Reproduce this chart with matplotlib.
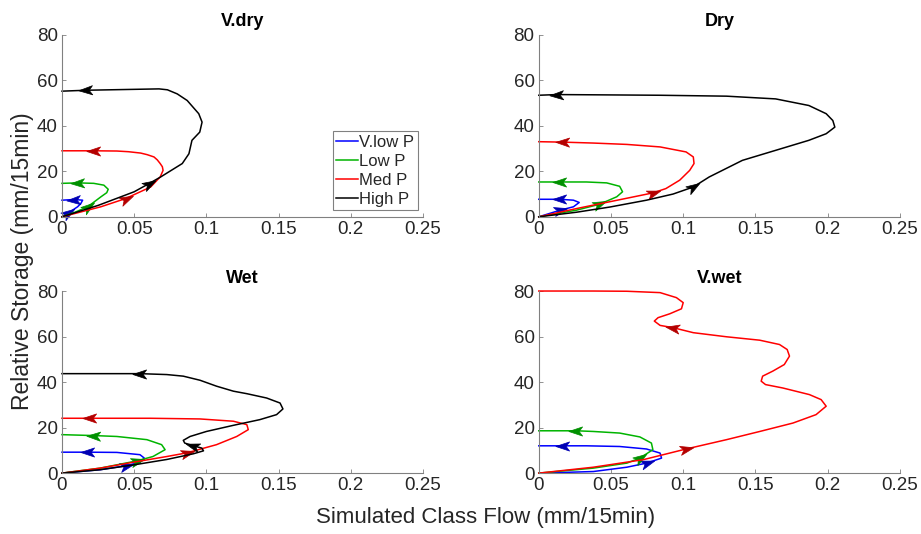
import numpy as np
import matplotlib.pyplot as plt
from matplotlib.markers import MarkerStyle
from matplotlib.path import Path
from matplotlib.transforms import Affine2D

plt.rcParams['font.family'] = ['Liberation Sans', 'DejaVu Sans']

titles = ['V.dry', 'Dry', 'Wet', 'V.wet']
series_names = ['V.low P', 'Low P', 'Med P', 'High P']
line_colors = ['#0000ff', '#00b400', '#ff0000', '#000000']
arrow_colors = ['#0000b4', '#009000', '#b40000', '#000000']

# V.dry  (flow q, storage s), arrow indices along each loop
vdry_vlow_q = [0, 0.004, 0.0108, 0.013, 0.0143, 0.0085, 0]
vdry_vlow_s = [0, 1.5, 4.4, 5.8, 7.3, 7.6, 7.3]
vdry_vlow_arr = [1, 5]
vdry_low_q = [0, 0.009, 0.018, 0.027, 0.031, 0.032, 0.029, 0.022, 0.0108, 0]
vdry_low_s = [0, 2.0, 4.5, 8.8, 10.6, 12.1, 13.9, 14.7, 14.9, 14.7]
vdry_low_arr = [2, 8]
vdry_med_q = [0, 0.0269, 0.044, 0.0614, 0.068, 0.070, 0.0695, 0.068, 0.066, 0.0637, 0.059,
              0.0545, 0.046, 0.038, 0.022, 0]
vdry_med_s = [0, 4.4, 8.0, 13.1, 17.5, 20.4, 22.0, 23.4, 25.0, 26.3, 27.3,
              28.0, 28.6, 28.9, 29.0, 29.0]
vdry_med_arr = [2, 14]
vdry_high_q = [0, 0.025, 0.05, 0.06, 0.0683, 0.0833, 0.0879, 0.090, 0.0954, 0.097, 0.0947,
               0.0867, 0.0798, 0.073, 0.0672, 0.0166, 0]
vdry_high_s = [0, 5.0, 11.0, 14.5, 17.5, 23.4, 27.7, 33.6, 37.2, 41.6, 45.3,
               51.1, 54.0, 55.8, 56.2, 55.6, 55.2]
vdry_high_arr = [3, 15]

# Dry
dry_vlow_q = [0, 0.0147, 0.024, 0.028, 0.024, 0.0147, 0.007, 0]
dry_vlow_s = [0, 2.9, 4.4, 6.3, 7.3, 7.7, 7.7, 7.7]
dry_vlow_arr = [1, 5]
dry_low_q = [0, 0.026, 0.042, 0.054, 0.058, 0.056, 0.047, 0.033, 0.0147, 0]
dry_low_s = [0, 2.9, 5.5, 8.8, 11.0, 13.4, 14.9, 15.3, 15.3, 15.3]
dry_low_arr = [2, 8]
dry_med_q = [0, 0.026, 0.049, 0.079, 0.088, 0.0976, 0.1045, 0.1075, 0.107, 0.102, 0.084,
             0.061, 0.0378, 0.017, 0]
dry_med_s = [0, 3.6, 6.6, 10.5, 12.4, 16.1, 20.4, 23.4, 26.3, 28.5, 30.7,
             31.8, 32.4, 32.8, 33.0]
dry_med_arr = [3, 13]
dry_high_q = [0, 0.026, 0.0493, 0.0746, 0.093, 0.107, 0.118, 0.141, 0.164, 0.187, 0.199,
              0.205, 0.2036, 0.199, 0.187, 0.164, 0.13, 0.0838, 0.0378, 0.0124, 0]
dry_high_s = [0, 2.0, 4.3, 7.3, 10.0, 13.1, 17.5, 24.8, 29.2, 33.6, 36.5,
              39.4, 42.3, 45.3, 48.9, 51.8, 53.0, 53.4, 53.6, 53.7, 53.4]
dry_high_arr = [5, 19]

# Wet
wet_vlow_q = [0, 0.0265, 0.044, 0.054, 0.057, 0.054, 0.038, 0.018, 0]
wet_vlow_s = [0, 1.5, 3.2, 4.8, 6.6, 8.1, 9.1, 9.2, 9.2]
wet_vlow_arr = [2, 7]
wet_low_q = [0, 0.0265, 0.052, 0.063, 0.0714, 0.069, 0.0588, 0.038, 0.022, 0]
wet_low_s = [0, 2.2, 5.4, 7.3, 10.3, 12.5, 14.7, 16.1, 16.5, 16.9]
wet_low_arr = [2, 8]
wet_med_q = [0, 0.0265, 0.0495, 0.0726, 0.0864, 0.107, 0.121, 0.129, 0.128, 0.1187, 0.0956,
             0.061, 0.0196, 0]
wet_med_s = [0, 2.2, 4.8, 7.3, 8.9, 12.5, 16.1, 19.1, 21.3, 22.8, 23.8,
             24.1, 24.1, 24.1]
wet_med_arr = [4, 12]
wet_high_q = [0, 0.0265, 0.0495, 0.0726, 0.091, 0.098, 0.0968, 0.091, 0.085, 0.084, 0.0887,
              0.1, 0.1187, 0.137, 0.1486, 0.153, 0.151, 0.1417, 0.128, 0.1187, 0.107,
              0.0956, 0.084, 0.0726, 0.054, 0.0265, 0]
wet_high_s = [0, 1.5, 3.6, 6.0, 8.5, 9.8, 11.0, 12.0, 13.2, 14.4, 16.1,
              18.3, 21.0, 23.5, 25.7, 28.2, 30.8, 33.0, 34.9, 36.0, 38.2,
              40.8, 42.6, 43.3, 43.7, 43.7, 43.7]
wet_high_arr = [7, 24]

# V.wet (no High P loop)
vwet_vlow_q = [0, 0.0378, 0.061, 0.0746, 0.085, 0.084, 0.0746, 0.056, 0.033, 0.017, 0]
vwet_vlow_s = [0, 0.7, 2.6, 4.4, 6.6, 8.8, 10.6, 11.7, 12.0, 12.0, 12.0]
vwet_vlow_arr = [3, 9]
vwet_low_q = [0, 0.0378, 0.061, 0.07, 0.079, 0.078, 0.07, 0.056, 0.0378, 0.026, 0]
vwet_low_s = [0, 2.2, 4.4, 6.6, 10.3, 13.2, 15.9, 17.6, 18.3, 18.6, 18.6]
vwet_low_arr = [3, 9]
vwet_med_q = [0, 0.0378, 0.0723, 0.102, 0.13, 0.153, 0.176, 0.192, 0.199, 0.1955, 0.1874,
              0.169, 0.157, 0.154, 0.155, 0.162, 0.17, 0.1736, 0.172, 0.1667, 0.153,
              0.13, 0.107, 0.093, 0.084, 0.08, 0.0826, 0.0907, 0.0988, 0.1, 0.0953,
              0.084, 0.061, 0.0378, 0]
vwet_med_s = [0, 2.6, 5.9, 10.6, 14.7, 18.3, 22.0, 25.7, 29.4, 32.3, 34.5,
              37.4, 38.9, 40.4, 42.6, 44.8, 47.7, 51.4, 54.3, 56.5, 58.4,
              59.9, 61.7, 63.9, 64.9, 66.8, 68.3, 70.0, 72.2, 74.9, 77.1,
              79.3, 79.9, 80.0, 80.0]
vwet_med_arr = [3, 23]

panels = [
    [(0, vdry_vlow_q, vdry_vlow_s, vdry_vlow_arr), (1, vdry_low_q, vdry_low_s, vdry_low_arr),
     (2, vdry_med_q, vdry_med_s, vdry_med_arr), (3, vdry_high_q, vdry_high_s, vdry_high_arr)],
    [(0, dry_vlow_q, dry_vlow_s, dry_vlow_arr), (1, dry_low_q, dry_low_s, dry_low_arr),
     (2, dry_med_q, dry_med_s, dry_med_arr), (3, dry_high_q, dry_high_s, dry_high_arr)],
    [(0, wet_vlow_q, wet_vlow_s, wet_vlow_arr), (1, wet_low_q, wet_low_s, wet_low_arr),
     (2, wet_med_q, wet_med_s, wet_med_arr), (3, wet_high_q, wet_high_s, wet_high_arr)],
    [(0, vwet_vlow_q, vwet_vlow_s, vwet_vlow_arr), (1, vwet_low_q, vwet_low_s, vwet_low_arr),
     (2, vwet_med_q, vwet_med_s, vwet_med_arr)],
]

# barbed arrow head, pointing along +x
head = Path([(1, 0), (-0.8, 0.6), (-0.35, 0), (-0.8, -0.6), (1, 0)],
            [Path.MOVETO, Path.LINETO, Path.LINETO, Path.LINETO, Path.CLOSEPOLY])

fig = plt.figure(figsize=(9.21, 5.34), dpi=100)
lefts = [0.0673, 0.585, 0.0673, 0.585]
bottoms = [0.594, 0.594, 0.114, 0.114]
W, H = 0.392, 0.341

for k in range(4):
    ax = fig.add_axes([lefts[k], bottoms[k], W, H])
    ax.set_xlim(0, 0.25)
    ax.set_ylim(0, 80)
    ax.set_xticks([0, 0.05, 0.1, 0.15, 0.2, 0.25])
    ax.set_xticklabels(['0', '0.05', '0.1', '0.15', '0.2', '0.25'])
    ax.set_yticks([0, 20, 40, 60, 80])
    for sp in ['top', 'right']:
        ax.spines[sp].set_visible(False)
    for sp in ['left', 'bottom']:
        ax.spines[sp].set_color('#808080')
        ax.spines[sp].set_linewidth(0.8)
    ax.tick_params(direction='in', length=3, width=0.6, color='#808080',
                   labelsize=13.5, labelcolor='#262626', pad=3)
    ax.set_title(titles[k], fontsize=13, fontweight='bold', pad=6)

    for ci, q, s, arr in panels[k]:
        ax.plot(q, s, color=line_colors[ci], lw=1.1, label=series_names[ci], clip_on=False)
        for i in arr:
            p0 = ax.transData.transform((q[i], s[i]))
            p1 = ax.transData.transform((q[i + 1], s[i + 1]))
            ang = np.degrees(np.arctan2(p1[1] - p0[1], p1[0] - p0[0]))
            m = MarkerStyle(head, transform=Affine2D().rotate_deg(ang))
            ax.plot(q[i], s[i], marker=m, ms=11, color=arrow_colors[ci],
                    mec=arrow_colors[ci], mew=0.5, ls='none', clip_on=False)

    if k == 0:
        leg = ax.legend(loc='lower right', bbox_to_anchor=(0.985, 0.035), fontsize=12,
                        fancybox=False, edgecolor='#808080', framealpha=1,
                        handlelength=1.3, handletextpad=0.1, borderpad=0.2,
                        labelspacing=0.25, borderaxespad=0)
        leg.get_frame().set_linewidth(0.8)
        for t in leg.get_texts():
            t.set_color('#262626')

fig.text(0.024, 0.511, 'Relative Storage (mm/15min)', rotation=90, fontsize=16.5,
         color='#262626', ha='center', va='center')
fig.text(0.527, 0.03, 'Simulated Class Flow (mm/15min)', fontsize=16,
         color='#262626', ha='center', va='center')

fig.savefig('out.png', dpi=100)
